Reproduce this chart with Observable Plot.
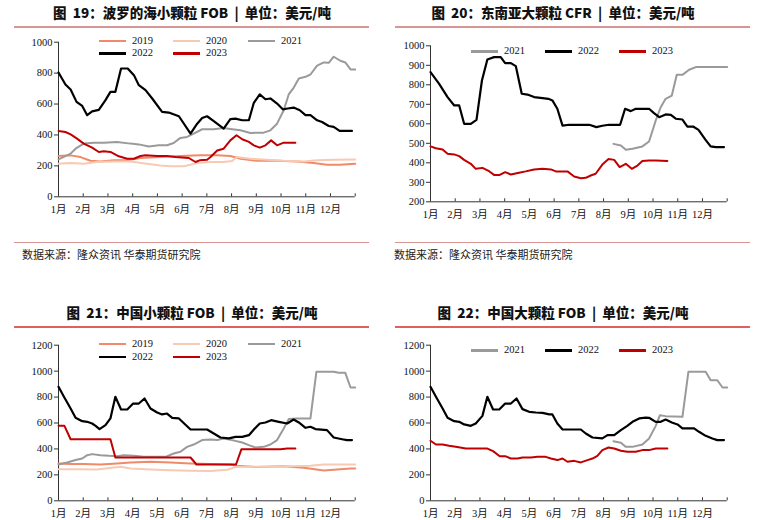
<!DOCTYPE html>
<html><head><meta charset="utf-8">
<script src="https://cdn.jsdelivr.net/npm/d3@7"></script>
<script src="https://cdn.jsdelivr.net/npm/@observablehq/plot@0.6"></script>
<style>
body{margin:0;background:#fff;}
#root{position:relative;width:762px;height:520px;overflow:hidden;background:#fff;}
#root svg text{font-family:"Liberation Serif","Noto Sans CJK SC",serif !important;}
.title{position:absolute;font-family:"Noto Sans CJK SC",sans-serif;font-weight:900;font-size:13.5px;white-space:pre;transform:translateX(-50%);line-height:16px;color:#111;}
.rule{position:absolute;height:1.5px;}
.src{position:absolute;font-family:"Noto Sans CJK SC",sans-serif;font-size:11px;color:#222;white-space:nowrap;line-height:14px;}
.chart{position:absolute;}
.lgline{position:absolute;height:2.5px;}
.lgtxt{position:absolute;font-family:"Liberation Serif",serif;font-size:10.5px;line-height:12px;color:#111;}
</style>
</head><body><div id="root"></div>
<script>
// ---------- data ----------
const monthLabels = ["1月","2月","3月","4月","5月","6月","7月","8月","9月","10月","11月","12月"];
const monthTicks = [0,1,2,3,4,5,6,7,8,9,10,11,12];
const years = ["2019","2020","2021","2022","2023"];
const yearColors = {"2019":"#F08A68","2020":"#F8C9B3","2021":"#9A9A9A","2022":"#000000","2023":"#C00000"};

const titles = ["图  19：波罗的海小颗粒 FOB  |  单位：美元/吨","图  20：东南亚大颗粒 CFR  |  单位：美元/吨","图  21：中国小颗粒 FOB  |  单位：美元/吨","图  22：中国大颗粒 FOB  |  单位：美元/吨"];
const sourceText = "数据来源：隆众资讯 华泰期货研究院";

const yTicks19 = [0,200,400,600,800,1000];
const yTicks20 = [200,300,400,500,600,700,800,900,1000];
const yTicks21 = [0,200,400,600,800,1000,1200];
const yTicks22 = [0,200,400,600,800,1000,1200];

// Figure 19 – Baltic small granular FOB  [month offset, USD/t]
const p19_2019 = [[0,264],[0.49,268],[0.89,257],[1.29,233],[1.70,229],[2.24,236],[2.78,236],[3.32,251],[4.12,257],[4.93,264],[5.74,268],[6.41,268],[6.95,264],[7.36,246],[8.03,233],[8.84,233],[9.65,229],[10.32,218],[10.86,208],[11.40,208],[12,214]];
const p19_2020 = [[0,214],[0.49,218],[1.02,214],[1.56,225],[2.24,229],[2.91,229],[3.58,214],[4.12,203],[4.53,197],[5.07,197],[5.61,218],[6.15,225],[6.68,225],[7.02,231],[7.22,257],[7.76,246],[8.44,240],[9.11,233],[9.92,229],[10.46,236],[11.13,240],[12,242]];
const p19_2021 = [[0,242],[0.49,279],[0.69,311],[1.02,344],[1.43,350],[1.83,350],[2.37,355],[2.91,344],[3.25,339],[3.65,326],[4.06,333],[4.39,333],[4.66,348],[4.93,381],[5.20,387],[5.47,409],[5.81,437],[6.28,437],[6.68,445],[7.02,437],[7.36,430],[7.76,413],[8.30,415],[8.57,430],[8.84,473],[9.11,560],[9.31,662],[9.51,705],[9.72,765],[9.99,776],[10.19,791],[10.46,848],[10.73,869],[10.93,867],[11.13,906],[11.40,880],[11.60,869],[11.81,824],[12,824]];
const p19_2022 = [[0,804],[0.28,726],[0.49,694],[0.73,614],[0.96,588],[1.16,528],[1.36,553],[1.63,562],[1.90,625],[2.10,679],[2.30,679],[2.53,830],[2.80,830],[3.05,787],[3.25,722],[3.52,690],[3.79,636],[4.19,549],[4.46,545],[4.87,521],[5.34,409],[5.61,473],[5.81,510],[6.01,521],[6.28,489],[6.68,441],[6.95,502],[7.16,506],[7.43,495],[7.70,495],[7.90,608],[8.14,662],[8.37,631],[8.57,636],[8.84,603],[9.07,566],[9.27,571],[9.51,577],[9.76,560],[9.99,528],[10.19,528],[10.46,495],[10.66,484],[10.93,458],[11.13,452],[11.37,426],[11.87,426]];
const p19_2023 = [[0,426],[0.28,419],[0.49,404],[0.75,376],[1.02,344],[1.36,318],[1.63,290],[1.83,294],[2.10,290],[2.44,262],[2.78,246],[3.05,246],[3.32,264],[3.52,268],[3.99,264],[4.39,264],[4.73,257],[5.27,251],[5.54,225],[5.71,236],[6.01,240],[6.15,257],[6.42,300],[6.68,311],[6.95,365],[7.20,398],[7.43,372],[7.70,355],[7.90,333],[8.14,318],[8.37,333],[8.60,365],[8.84,333],[9.11,350],[9.58,350]];

// Figure 20 – SE Asia large granular CFR
const p20_2021 = [[7.40,497],[7.70,489],[7.90,467],[8.17,472],[8.57,484],[8.84,509],[9.11,617],[9.31,685],[9.51,728],[9.76,745],[9.96,851],[10.19,851],[10.46,877],[10.73,891],[12,891]];
const p20_2022 = [[0,865],[0.35,805],[0.69,737],[0.96,694],[1.16,694],[1.36,600],[1.63,600],[1.86,620],[2.08,822],[2.30,930],[2.57,942],[2.84,942],[3.02,911],[3.25,911],[3.45,896],[3.69,754],[3.92,750],[4.19,737],[4.53,732],[4.77,728],[4.93,720],[5.13,677],[5.34,591],[5.61,595],[5.88,595],[6.42,595],[6.71,583],[6.95,590],[7.22,595],[7.67,595],[7.87,677],[8.10,665],[8.30,677],[8.84,677],[9.04,655],[9.25,634],[9.51,648],[9.72,646],[9.92,626],[10.19,622],[10.39,586],[10.62,586],[10.84,569],[11.11,520],[11.33,484],[11.54,480],[11.87,480]];
const p20_2023 = [[0,484],[0.22,475],[0.49,468],[0.69,446],[0.96,443],[1.16,434],[1.36,415],[1.63,395],[1.83,369],[2.10,374],[2.37,357],[2.57,338],[2.80,338],[3.02,352],[3.25,340],[3.58,349],[3.85,356],[4.19,366],[4.53,369],[4.87,366],[5.07,356],[5.54,356],[5.81,330],[6.08,321],[6.28,323],[6.48,335],[6.68,344],[6.95,391],[7.20,420],[7.43,415],[7.65,378],[7.90,395],[8.14,369],[8.37,386],[8.57,409],[8.84,412],[9.11,412],[9.58,409]];

// Figure 21 – China small granular FOB
const p21_2019 = [[0,288],[0.49,283],[1.02,283],[1.70,280],[2.37,288],[2.91,296],[3.72,301],[4.53,296],[5.34,288],[6.15,283],[6.95,280],[7.22,270],[8.03,260],[9.11,267],[9.92,254],[10.73,234],[11.27,242],[11.81,249],[12,249]];
const p21_2020 = [[0,244],[0.75,244],[1.56,242],[2.51,262],[2.91,249],[3.72,242],[4.53,236],[5.34,231],[6.15,229],[6.82,239],[7.16,260],[7.76,262],[8.57,262],[9.38,267],[10.19,270],[10.73,280],[12,280]];
const p21_2021 = [[0,280],[0.35,296],[0.69,314],[0.96,326],[1.16,352],[1.36,360],[1.70,352],[2.04,347],[2.37,344],[2.64,352],[3.05,347],[3.45,339],[3.85,339],[4.33,339],[4.66,365],[4.93,378],[5.20,416],[5.47,434],[5.81,468],[6.15,473],[6.42,468],[6.68,481],[7.02,468],[7.43,450],[7.70,429],[7.96,411],[8.30,416],[8.57,434],[8.84,468],[9.11,558],[9.31,630],[9.65,635],[10.19,635],[10.43,995],[11.13,995],[11.33,987],[11.60,987],[11.81,874],[12,874]];
const p21_2022 = [[0,879],[0.22,802],[0.49,712],[0.69,640],[0.96,614],[1.16,609],[1.36,596],[1.50,578],[1.66,553],[1.90,583],[2.10,635],[2.30,802],[2.53,704],[2.78,704],[3.02,750],[3.25,750],[3.48,789],[3.72,712],[3.99,681],[4.19,666],[4.39,673],[4.60,640],[4.87,635],[5.34,550],[5.61,550],[6.01,550],[6.28,519],[6.55,488],[6.89,481],[7.16,493],[7.43,493],[7.70,506],[7.92,553],[8.14,596],[8.37,604],[8.60,622],[8.91,609],[9.25,596],[9.51,627],[9.72,604],[9.99,563],[10.19,571],[10.39,553],[10.86,545],[11.13,488],[11.47,475],[11.67,468],[11.87,468]];
const p21_2023 = [[0,578],[0.24,578],[0.49,475],[2.10,475],[2.30,334],[5.34,334],[5.58,280],[7.18,280],[7.40,398],[8.98,398],[9.25,403],[9.58,403]];

// Figure 22 – China large granular FOB
const p22_2021 = [[7.40,460],[7.70,447],[7.90,416],[8.17,416],[8.57,434],[8.84,481],[9.11,578],[9.28,660],[9.51,653],[10.19,648],[10.43,995],[11.13,995],[11.33,930],[11.60,930],[11.81,874],[12,874]];
const p22_2022 = [[0,879],[0.22,802],[0.49,712],[0.69,640],[0.96,614],[1.16,609],[1.36,589],[1.63,578],[1.83,596],[2.10,655],[2.30,802],[2.53,704],[2.78,704],[3.02,750],[3.25,750],[3.48,789],[3.72,707],[3.99,686],[4.26,681],[4.53,678],[4.80,666],[4.93,666],[5.13,596],[5.34,550],[5.67,550],[6.08,550],[6.28,519],[6.55,488],[6.95,481],[7.16,506],[7.43,506],[7.70,545],[7.96,578],[8.17,609],[8.44,635],[8.71,642],[8.84,640],[9.11,609],[9.31,609],[9.51,627],[9.76,604],[9.99,589],[10.19,558],[10.66,558],[10.86,532],[11.13,501],[11.40,481],[11.60,468],[11.87,468]];
const p22_2023 = [[0,463],[0.22,434],[0.49,434],[0.75,424],[1.02,416],[1.43,403],[1.83,403],[2.30,403],[2.53,383],[2.80,344],[3.02,344],[3.25,326],[3.52,326],[3.72,334],[4.06,334],[4.33,339],[4.66,339],[4.87,326],[5.13,314],[5.34,326],[5.54,301],[5.81,308],[6.08,296],[6.35,314],[6.55,326],[6.75,347],[6.95,391],[7.20,411],[7.43,403],[7.70,386],[7.96,378],[8.30,378],[8.57,391],[8.84,391],[9.11,403],[9.58,403]];

// ---------- layout ----------
const root = document.getElementById("root");
const FONT = "Liberation Serif";

function el(cls, css, text) {
  const d = document.createElement("div");
  d.className = cls;
  Object.assign(d.style, css);
  if (text != null) d.textContent = text;
  root.appendChild(d);
  return d;
}

function makePanel(cfg) {
  const innerH = cfg.height - cfg.mT - cfg.mB;
  const y0 = cfg.yDomain[0];
  const marks = [
    Plot.ruleX([0], {stroke: "#333", strokeWidth: 1}),
    Plot.ruleY([y0], {stroke: "#333", strokeWidth: 1}),
    Plot.axisY(cfg.yTicks, {tickSize: 4, tickPadding: 2, label: null, tickFormat: d => String(d), fontSize: 10.5, fontFamily: FONT, fill: "#111", stroke: "#333"}),
    Plot.tickX(monthTicks, {x: d => d, insetTop: innerH - 3, stroke: "#333"}),
    Plot.axisX(monthTicks, {tickSize: 0, tickPadding: 9, label: null, tickFormat: i => monthLabels[i] ?? "", fontSize: 10.5, fontFamily: FONT, fill: "#111"}),
    ...cfg.series.map(s => Plot.line(s.data, {x: d => d[0], y: d => d[1], stroke: yearColors[s.year], strokeWidth: s.year === "2022" ? 2.2 : 2, curve: "linear"}))
  ];
  const svg = Plot.plot({
    width: 381, height: cfg.height,
    marginLeft: cfg.mL, marginRight: cfg.mR, marginTop: cfg.mT, marginBottom: cfg.mB,
    x: {domain: [0, 12], type: "linear"},
    y: {domain: cfg.yDomain, type: "linear"},
    style: {fontFamily: FONT, fontSize: "10.5px", color: "#333", background: "transparent", overflow: "visible"},
    marks
  });
  const wrap = el("chart", {left: cfg.left + "px", top: cfg.top + "px"});
  wrap.appendChild(svg);
  el("title", {left: cfg.titleX + "px", top: (cfg.top - 30 + 4) + "px"}, cfg.title);
  el("rule", {left: (cfg.left + 14) + "px", width: "355px", top: (cfg.top - 30 + 26) + "px", background: cfg.ruleColor});
  if (cfg.source) {
    el("rule", {left: (cfg.left + 14) + "px", width: "355px", top: (cfg.top - 30 + 241.5) + "px", background: "#D99494"});
    el("src", {left: (cfg.left + cfg.srcX) + "px", top: (cfg.top - 30 + 247) + "px"}, sourceText);
  }
  cfg.legend.forEach(([yr, lx, ly]) => {
    el("lgline", {left: (cfg.left + lx) + "px", top: (cfg.top - 30 + ly - 1.25) + "px", width: "27px", background: yearColors[yr]});
    el("lgtxt", {left: (cfg.left + lx + 33) + "px", top: (cfg.top - 30 + ly - 6.5) + "px"}, yr);
  });
}

makePanel({left: 0, top: 30, height: 190, mL: 58, mR: 26.3, mT: 11.7, mB: 23.7,
  yDomain: [0, 1000], yTicks: yTicks19, title: titles[0], titleX: 192, ruleColor: "#D99494", source: true, srcX: 22,
  legend: [["2019",99,41],["2020",173,41],["2021",248,41],["2022",99,53.5],["2023",173,53.5]],
  series: [{year: "2019", data: p19_2019}, {year: "2020", data: p19_2020}, {year: "2021", data: p19_2021}, {year: "2022", data: p19_2022}, {year: "2023", data: p19_2023}]});

makePanel({left: 381, top: 30, height: 190, mL: 49, mR: 35.3, mT: 15.3, mB: 18.7,
  yDomain: [200, 1000], yTicks: yTicks20, title: titles[1], titleX: 563, ruleColor: "#D99494", source: true, srcX: 13,
  legend: [["2021",90,51.7],["2022",164,51.7],["2023",238,51.7]],
  series: [{year: "2021", data: p20_2021}, {year: "2022", data: p20_2022}, {year: "2023", data: p20_2023}]});

makePanel({left: 0, top: 330, height: 190, mL: 58, mR: 26.3, mT: 14.7, mB: 19.7,
  yDomain: [0, 1200], yTicks: yTicks21, title: titles[2], titleX: 192, ruleColor: "#E06060", source: false,
  legend: [["2019",99,44],["2020",173,44],["2021",248,44],["2022",99,57],["2023",173,57]],
  series: [{year: "2019", data: p21_2019}, {year: "2020", data: p21_2020}, {year: "2021", data: p21_2021}, {year: "2022", data: p21_2022}, {year: "2023", data: p21_2023}]});

makePanel({left: 381, top: 330, height: 190, mL: 49, mR: 35.3, mT: 14.7, mB: 19.7,
  yDomain: [0, 1200], yTicks: yTicks22, title: titles[3], titleX: 563, ruleColor: "#E06060", source: false,
  legend: [["2021",90,50.7],["2022",164,50.7],["2023",238,50.7]],
  series: [{year: "2021", data: p22_2021}, {year: "2022", data: p22_2022}, {year: "2023", data: p22_2023}]});
</script>
</body></html>
